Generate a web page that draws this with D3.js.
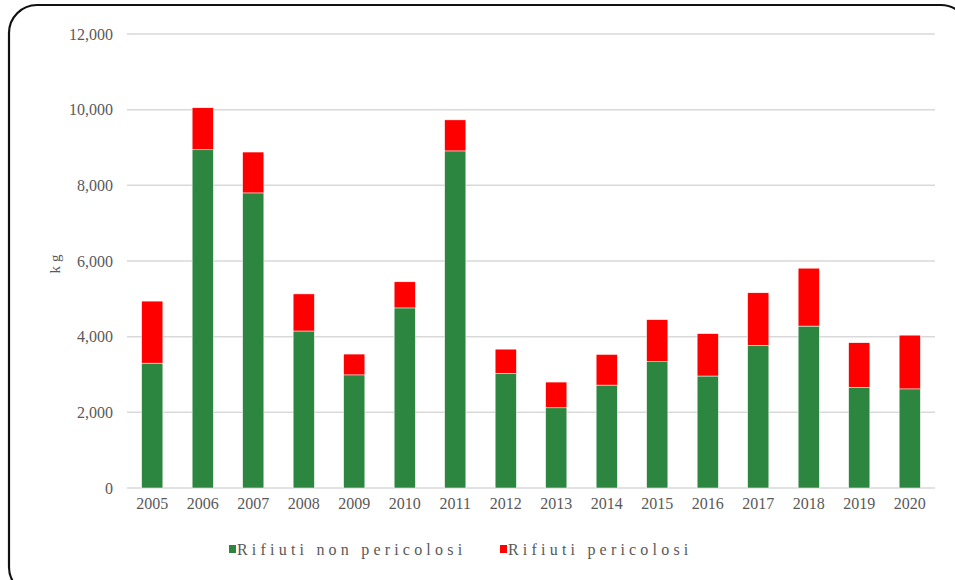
<!DOCTYPE html>
<html>
<head>
<meta charset="utf-8">
<script src="https://cdn.jsdelivr.net/npm/d3@7"></script>
<style>
  body { margin: 0; background: #fff; }
  svg { display: block; }
  text { font-family: "Liberation Serif", "Times New Roman", serif; fill: #595959; }
</style>
</head>
<body>
<div class="chart"></div>
<script>
var years = ["2005","2006","2007","2008","2009","2010","2011","2012","2013","2014","2015","2016","2017","2018","2019","2020"];
var nonPericolosi = [3300, 8940, 7800, 4150, 2990, 4760, 8910, 3030, 2120, 2720, 3340, 2960, 3770, 4280, 2660, 2620];
var pericolosi = [1640, 1110, 1080, 980, 550, 690, 820, 640, 680, 810, 1110, 1120, 1390, 1530, 1180, 1420];
var yTicks = [0, 2000, 4000, 6000, 8000, 10000, 12000];
var seriesNames = ["Rifiuti non pericolosi", "Rifiuti pericolosi"];
var colors = ["#2c8640", "#ff0000"];

var width = 955, height = 580;
var margin = {top: 34, right: 20, bottom: 92, left: 127};

var svg = d3.select(".chart").append("svg")
    .attr("width", width)
    .attr("height", height);

// rounded frame
svg.append("rect")
    .attr("x", 9).attr("y", 5)
    .attr("width", 960).attr("height", 590)
    .attr("rx", 28)
    .attr("fill", "none")
    .attr("stroke", "#111")
    .attr("stroke-width", 2.2);

var x = d3.scaleBand()
    .domain(years)
    .range([margin.left, 935])
    .paddingInner(0.58)
    .paddingOuter(0.29);

var y = d3.scaleLinear()
    .domain([0, 12000])
    .range([488, margin.top]);

// gridlines
svg.append("g").selectAll("line")
    .data(yTicks)
  .enter().append("line")
    .attr("x1", margin.left).attr("x2", 935)
    .attr("y1", function(d) { return y(d); })
    .attr("y2", function(d) { return y(d); })
    .attr("stroke", "#d9d9d9")
    .attr("stroke-width", 1.5);

var yAxis = svg.append("g")
    .attr("transform", "translate(" + (margin.left) + ",0)")
    .call(d3.axisLeft(y).tickValues(yTicks).tickSize(0).tickPadding(14).tickFormat(d3.format(",")));
yAxis.select(".domain").remove();
yAxis.selectAll("text").attr("font-size", 16).attr("fill", "#595959")
    .style("font-family", "Liberation Serif, serif");

var xAxis = svg.append("g")
    .attr("transform", "translate(0,488)")
    .call(d3.axisBottom(x).tickSize(0).tickPadding(10));
xAxis.select(".domain").remove();
xAxis.selectAll("text").attr("font-size", 16).attr("fill", "#595959")
    .style("font-family", "Liberation Serif, serif");

// stacked bars
var rows = years.map(function(yr, i) {
  return {year: yr, a: nonPericolosi[i], b: pericolosi[i]};
});
var stack = d3.stack().keys(["a", "b"]);
var layers = stack(rows);

svg.append("g").selectAll("g")
    .data(layers)
  .enter().append("g")
    .attr("fill", function(d, i) { return colors[i]; })
  .selectAll("rect")
    .data(function(d) { return d; })
  .enter().append("rect")
    .attr("x", function(d) { return x(d.data.year); })
    .attr("width", x.bandwidth())
    .attr("y", function(d) { return y(d[1]); })
    .attr("height", function(d) { return y(d[0]) - y(d[1]); })
    .attr("stroke", "#fff")
    .attr("stroke-width", 0.5);

// y axis title
svg.append("text")
    .attr("transform", "translate(60,262) rotate(-90)")
    .attr("text-anchor", "middle")
    .attr("font-size", 15)
    .attr("letter-spacing", 4)
    .text("kg");

// legend
var legendX = [229, 500];
var legend = svg.append("g").selectAll("g")
    .data(seriesNames)
  .enter().append("g")
    .attr("transform", function(d, i) { return "translate(" + legendX[i] + ",545)"; });
legend.append("rect")
    .attr("width", 7).attr("height", 8)
    .attr("fill", function(d, i) { return colors[i]; });
legend.append("text")
    .attr("x", 8).attr("y", 10)
    .attr("font-size", 16)
    .attr("letter-spacing", 4.2)
    .text(function(d) { return d; });
</script>
</body>
</html>
